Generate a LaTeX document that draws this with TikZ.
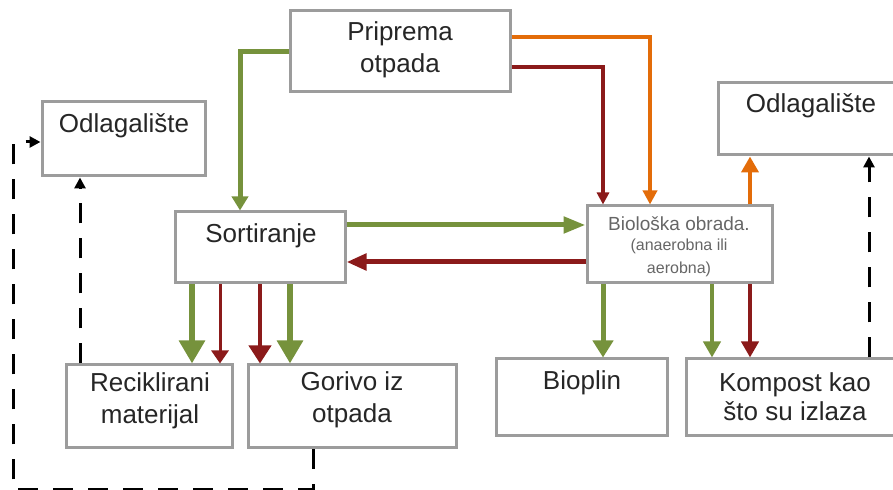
\documentclass[tikz,border=0pt]{standalone}
\usepackage{fontspec}
\setmainfont{Liberation Sans}
\usetikzlibrary{arrows.meta,fit}
\definecolor{gr}{HTML}{76923C}
\definecolor{dr}{HTML}{8B1A1A}
\definecolor{org}{HTML}{E36C09}
\definecolor{bx}{HTML}{9C9C9C}
\begin{document}
\begin{tikzpicture}[x=0.5pt,y=-0.5pt,
  box/.style={draw=bx, line width=1.5pt, fill=white, inner sep=0pt},
  lbl/.style={font=\fontsize{13}{16}\selectfont, align=center, text=black!85, inner sep=0pt},
  small/.style={font=\fontsize{9.5}{11.5}\selectfont, align=center, text=black!60, inner sep=0pt},
  dsh/.style={black, line width=1.5pt, dash pattern=on 10pt off 7.5pt, -{Triangle[length=5.5pt,width=5.5pt]}},
]
\useasboundingbox (0,0) rectangle (893,490);

% boxes
\node[box, fit={(290,11)(510,92)}] (prep) {};
\node[box, fit={(42,102)(205,176)}] (odl1) {};
\node[box, fit={(718,83)(904,155)}] (odl2) {};
\node[box, fit={(175,212)(345,283)}] (sort) {};
\node[box, fit={(587,206)(772,283)}] (bio) {};
\node[box, fit={(66,365)(232,448)}] (rec) {};
\node[box, fit={(248,365)(456,448)}] (gor) {};
\node[box, fit={(496,359)(667,436)}] (biopl) {};
\node[box, fit={(686,359)(904,436)}] (komp) {};

% labels
\node[lbl] (prept) at (400,50) {Priprema\\otpada};
\node[lbl] (odl1t) at (124,126) {Odlagalište};
\node[lbl] (odl2t) at (811,106) {Odlagalište};
\node[lbl] (sortt) at (261,236) {Sortiranje};
\node[small] (biot1) at (679,224) {Biološka obrada.};
\node[small, font=\fontsize{8}{11.5}\selectfont] (biot2) at (679,258) {(anaerobna ili\\aerobna)};
\node[lbl] (rect) at (150,401) {Reciklirani\\materijal};
\node[lbl] (gort) at (352,400) {Gorivo iz\\otpada};
\node[lbl] (bioplt) at (582,383) {Bioplin};
\node[lbl, font=\fontsize{13}{14.5}\selectfont] (kompt) at (795,397) {Kompost kao\\što su izlaza};

% Priprema outputs
\draw[gr, line width=2.5pt, -{Triangle[length=7pt,width=8pt]}]
  (prep.west) -| ([xshift=-10pt]sort.north);
\draw[org, line width=2pt, -{Triangle[length=7pt,width=7pt]}]
  ([yshift=7.25pt]prep.east) -| ([xshift=-14.75pt]bio.north);
\draw[dr, line width=2pt, -{Triangle[length=6pt,width=6pt]}]
  ([yshift=-7.75pt]prep.east) -| ([xshift=-38.25pt]bio.north);

% Sortiranje <-> Bio
\draw[gr, line width=2.5pt, -{Triangle[length=11pt,width=8pt]}]
  ([yshift=11.25pt]sort.east) -- ([yshift=9.75pt]bio.west);
\draw[dr, line width=2.5pt, -{Triangle[length=10pt,width=8pt]}]
  ([yshift=-8.75pt]bio.west) -- ([yshift=-7.25pt]sort.east);

% Sortiranje outputs
\draw[gr, line width=3pt, -{Triangle[length=11.5pt,width=12.5pt]}]
  ([xshift=-34pt]sort.south) -- ([xshift=21.5pt]rec.north);
\draw[dr, line width=1.5pt, -{Triangle[length=6.5pt,width=8.5pt]}]
  ([xshift=-20pt]sort.south) -- ([xshift=35.5pt]rec.north);
\draw[dr, line width=2pt, -{Triangle[length=9pt,width=11pt]}]
  (sort.south) -- ([xshift=-46pt]gor.north);
\draw[gr, line width=3pt, -{Triangle[length=11.5pt,width=12.5pt]}]
  ([xshift=15pt]sort.south) -- ([xshift=-31pt]gor.north);

% Bio outputs
\draw[gr, line width=2.5pt, -{Triangle[length=8.5pt,width=10pt]}]
  ([xshift=-38.25pt]bio.south) -- ([xshift=10.75pt]biopl.north);
\draw[gr, line width=2pt, -{Triangle[length=8pt,width=8.5pt]}]
  ([xshift=16.25pt]bio.south) -- ([xshift=-41.5pt]komp.north);
\draw[dr, line width=2pt, -{Triangle[length=8pt,width=8.5pt]}]
  ([xshift=35.25pt]bio.south) -- ([xshift=-22.5pt]komp.north);
\draw[org, line width=2pt, -{Triangle[length=8pt,width=8.5pt]}]
  ([xshift=35.25pt]bio.north) -- ([xshift=-30.5pt]odl2.south);

% dashed black
\draw[dsh] ([xshift=37pt]komp.north) -- ([xshift=29pt]odl2.south);
\draw[dsh] ([xshift=-34.5pt]rec.north) -- ([xshift=-21.75pt]odl1.south);
\coordinate (c1) at (13,489.5);
\draw[dsh] ([xshift=-19.5pt]gor.south) |- (c1) |- ([yshift=-1.5pt]odl1.west);
\end{tikzpicture}
\end{document}
